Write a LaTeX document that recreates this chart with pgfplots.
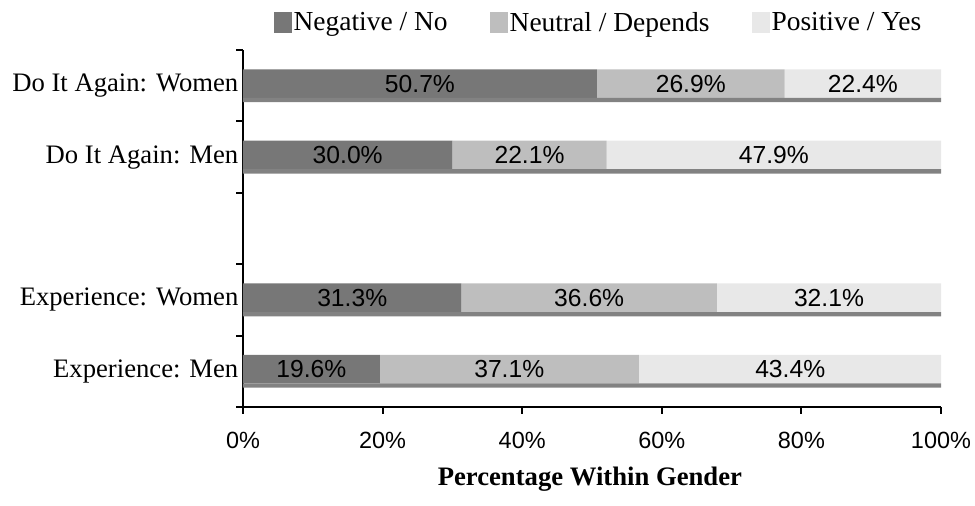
\documentclass[border=0pt]{standalone}
\usepackage{pgfplots}
\pgfplotsset{compat=1.18}
\usepackage{pgfplotstable}
\usepackage{fontspec}
\setmainfont{Liberation Serif}
\newfontfamily\numfont{Liberation Sans}
\definecolor{cneg}{HTML}{777777}
\definecolor{cneu}{HTML}{BEBEBE}
\definecolor{cpos}{HTML}{E8E8E8}
\definecolor{cshadow}{HTML}{828282}

\pgfplotstableread{
cat neg neu pos
0 19.6 37.1 43.4
1 31.3 36.6 32.1
3 30.0 22.1 47.9
4 50.7 26.9 22.4
}\datatable

\begin{document}
\begin{tikzpicture}
\useasboundingbox (-182.25pt,-74.25pt) rectangle (549pt,305.25pt);
\pgfplotsset{
  common/.style={scale only axis, width=523.5pt, height=267.75pt,
    xmin=0, xmax=100, ymin=-0.5, ymax=4.5,
    /pgf/number format/assume math mode=true}
}
\begin{axis}[common,
  xbar stacked, bar width=0.40, bar shift=0.03,
  axis lines*=left,
  axis line style={line width=1.5pt, black},
  tick style={line width=1.5pt, black},
  major tick length=5pt, tick align=outside,
  xtick={0,20,...,100},
  xticklabel={\pgfmathprintnumber{\tick}\%},
  xticklabel style={font=\numfont\fontsize{17.6}{20}\selectfont, yshift=-10pt},
  ytick={-0.5,0.5,1.5,2.5,3.5,4.5},
  yticklabels={,,,,,},
  extra y ticks={0,1,3,4},
  extra y tick labels={Experience: Men, Experience: Women, Do It Again: Men, Do It Again: Women},
  extra y tick style={major tick length=0pt,
    yticklabel style={font=\fontsize{20}{24}\selectfont}},
  xlabel={\textbf{Percentage Within Gender}},
  xlabel style={at={(axis description cs:0.497,0)}, anchor=center, yshift=-54.5pt,
    font=\fontsize{20}{24}\selectfont},
  legend columns=-1,
  legend style={at={(axis description cs:0.5093,1.077)}, anchor=center,
    draw=none, fill=none, font=\fontsize{20.6}{24}\selectfont,
    nodes={inner sep=1pt},
    /tikz/every even column/.append style={column sep=31pt}},
  legend image code/.code={\fill[#1] (0pt,-7.9pt) rectangle (13.5pt,7.9pt);},
]
\addplot[fill=cneg, draw=none] table[x=neg, y=cat] {\datatable};
\addplot[fill=cneu, draw=none] table[x=neu, y=cat] {\datatable};
\addplot[fill=cpos, draw=none] table[x=pos, y=cat] {\datatable};
\legend{Negative / No, Neutral / Depends, Positive / Yes}
\end{axis}
\begin{axis}[common, hide axis,
  every node near coord/.append style={anchor=center, yshift=1.6pt,
    font=\numfont\fontsize{18.5}{20}\selectfont, text=black},
  nodes near coords={\pgfmathprintnumber[fixed,fixed zerofill,precision=1,assume math mode=true]{\pgfplotspointmeta}\%},
]
\addplot[xbar, bar width=0.06, bar shift=-0.20, fill=cshadow, draw=none, nodes near coords=]
  table[x expr=\thisrow{neg}+\thisrow{neu}+\thisrow{pos}, y=cat] {\datatable};
\addplot[only marks, mark=*, mark size=0pt, mark options={draw=none, fill=none}, point meta=explicit]
  table[x expr=\thisrow{neg}/2, y=cat, meta=neg] {\datatable};
\addplot[only marks, mark=*, mark size=0pt, mark options={draw=none, fill=none}, point meta=explicit]
  table[x expr=\thisrow{neg}+\thisrow{neu}/2, y=cat, meta=neu] {\datatable};
\addplot[only marks, mark=*, mark size=0pt, mark options={draw=none, fill=none}, point meta=explicit]
  table[x expr=\thisrow{neg}+\thisrow{neu}+\thisrow{pos}/2, y=cat, meta=pos] {\datatable};
\end{axis}
\end{tikzpicture}
\end{document}
